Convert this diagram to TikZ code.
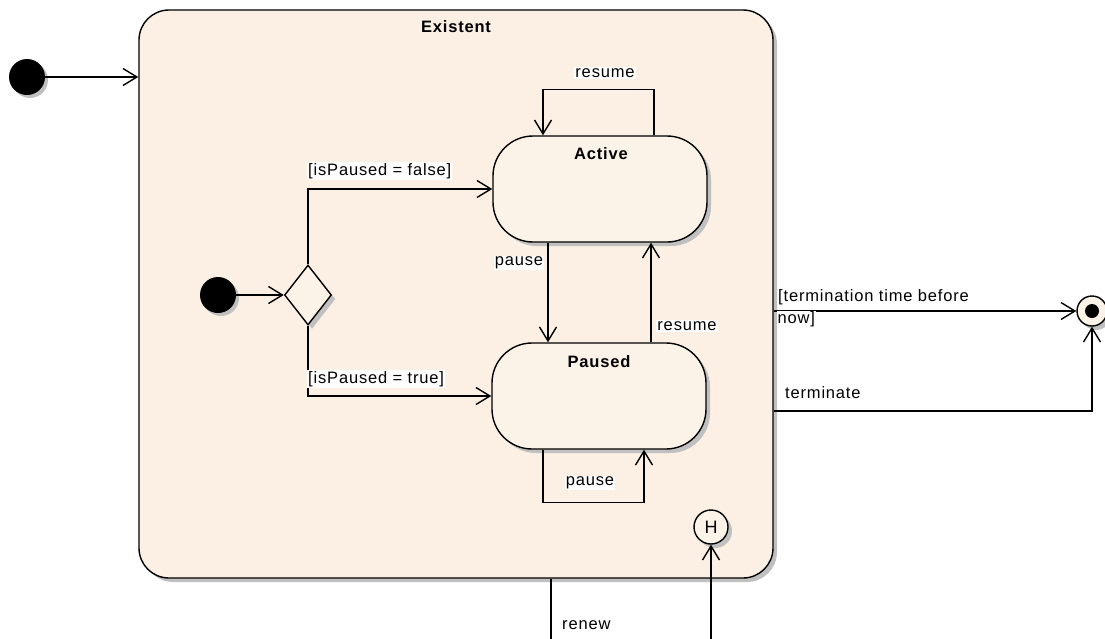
\documentclass[tikz,border=0pt]{standalone}
\usepackage{fontspec}
\setmainfont{Liberation Sans}
\usetikzlibrary{arrows.meta,shapes.geometric,shadows}

\definecolor{statefill}{RGB}{251,240,227}
\definecolor{innerfill}{RGB}{252,243,232}
\definecolor{shadowgray}{RGB}{192,192,192}

\tikzset{
  base/.style={line width=1.4pt, draw=black},
  shade/.style={drop shadow={shadow xshift=4pt, shadow yshift=-4pt, fill=shadowgray, opacity=1}},
  composite/.style={base, shade, rectangle, rounded corners=30pt, fill=statefill,
    minimum width=634pt, minimum height=568pt, inner sep=0pt},
  simplestate/.style={base, shade, rectangle, rounded corners=40pt, fill=innerfill,
    minimum width=214pt, minimum height=106pt, inner sep=0pt},
  initial/.style={circle, fill=black, minimum size=36pt, inner sep=0pt,
    drop shadow={shadow xshift=3pt, shadow yshift=-3pt, fill=shadowgray, opacity=1}},
  choice/.style={base, shade, diamond, fill=innerfill, minimum width=47pt,
    minimum height=60pt, inner sep=0pt},
  history/.style={base, shade, circle, fill=innerfill, minimum size=34pt, inner sep=0pt,
    font=\fontsize{18}{20}\selectfont},
  finalstate/.style={base, shade, circle, fill=innerfill, minimum size=30pt, inner sep=0pt},
  title/.style={font=\fontsize{16.5}{19}\selectfont\bfseries\addfontfeatures{LetterSpace=5}},
  plain/.style={inner sep=1pt, font=\fontsize{16.5}{19}\selectfont\addfontfeatures{LetterSpace=5}},
  guard/.style={plain, fill=white},
  tr/.style={line width=1.4pt, -{Straight Barb[length=14pt,width=17pt,line width=1.4pt]}},
}

\begin{document}
\begin{tikzpicture}[x=1pt,y=-1pt]
  \useasboundingbox (0,0) rectangle (1105,638);
  \clip (0,0) rectangle (1105,638);

  % composite state and its contents
  \node[composite] (existent) at (456,294) {};
  \node[title] (existentTitle) at (456,27) {Existent};

  \node[simplestate] (active) at (600,189) {};
  \node[title] (activeTitle) at (601,154) {Active};

  \node[simplestate] (paused) at (599,396) {};
  \node[title] (pausedTitle) at (599,362) {Paused};

  \node[initial] (init) at (27,77) {};
  \node[initial] (innerInit) at (218,295) {};
  \node[choice] (decide) at (308,295) {};
  \node[history] (hist) at (711,527) {H};

  \node[finalstate] (final) at (1092,311) {};
  \node[circle, fill=black, minimum size=14pt, inner sep=0pt] (finalDot) at (final) {};

  % transitions
  \draw[tr] (init) -- (init -| existent.west);
  \draw[tr] (innerInit) -- (decide.west);

  \draw[tr] (decide.north) |- (active.west);
  \node[guard, anchor=west] (lblFalse) at (307,171) {[isPaused = false]};

  \draw[tr] (decide.south) |- (paused.west);
  \node[guard, anchor=west] (lblTrue) at (307,379) {[isPaused = true]};

  \draw[tr] ([xshift=-52pt]active.south) -- ([xshift=-52pt]active.south |- paused.north);
  \node[guard] (lblPause) at (519,263) {pause};

  \draw[tr] ([xshift=51pt]active.south |- paused.north) -- ([xshift=51pt]active.south);
  \node[guard] (lblResume) at (687,326) {resume};

  \draw[tr] ([xshift=54pt]active.north) -- ++(0,-46) -| ([xshift=-57pt]active.north);
  \node[guard] (lblResumeTop) at (605,73) {resume};

  \draw[tr] ([xshift=-56pt]paused.south) -- ++(0,53) -| ([xshift=45pt]paused.south);
  \node[guard] (lblPauseLow) at (590,483) {pause};

  \draw[tr] (existent.east |- final) -- (final);
  \node[plain, anchor=west] (lblTerm) at (777,297) {[termination time before};
  \node[guard, anchor=west, inner sep=0.5pt] (lblTermNow) at (777,319) {now]};

  \coordinate (termCorner) at (1092,411);
  \draw[tr] (termCorner -| existent.east) -- (termCorner) -- (final);
  \node[guard, anchor=west] (lblTerminate) at (784,393) {terminate};

  \draw[tr] ([xshift=95pt]existent.south) -- ++(0,80) -| (hist);
  \node[guard, anchor=west] (lblRenew) at (561,625) {renew};
\end{tikzpicture}
\end{document}
